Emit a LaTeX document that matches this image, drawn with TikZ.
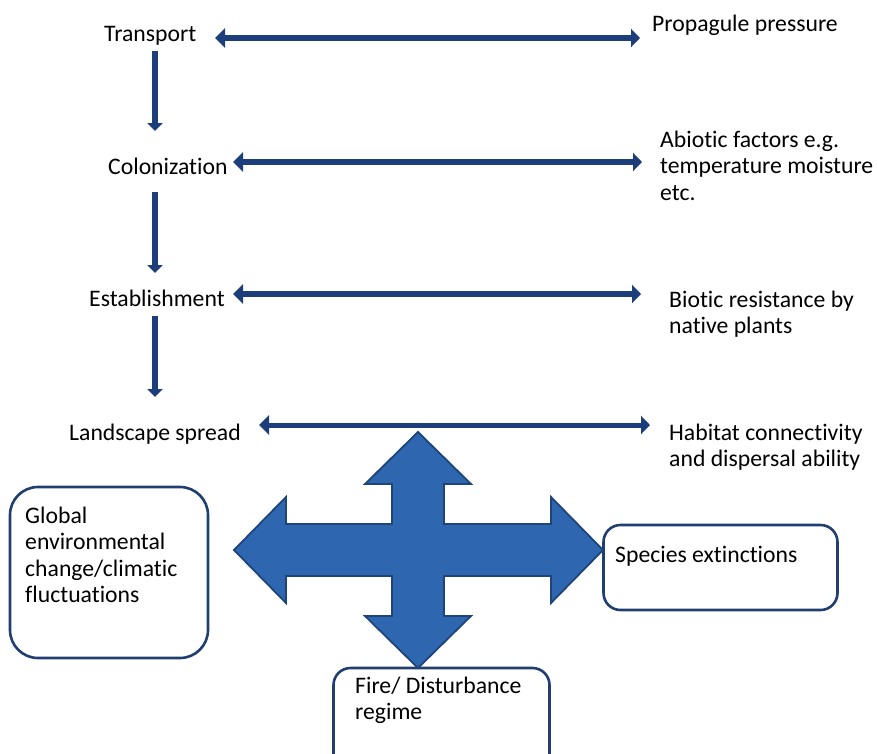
\documentclass[tikz,border=0pt]{standalone}
\usepackage{fontspec}
\setmainfont{Carlito}[Ligatures=NoCommon]
\usetikzlibrary{arrows.meta}
\definecolor{arrowc}{RGB}{28,62,122}
\definecolor{crossfill}{RGB}{46,102,176}
\definecolor{crossline}{RGB}{30,68,124}
\definecolor{boxline}{RGB}{32,62,112}
\begin{document}
\begin{tikzpicture}[x=1pt,y=-1pt,
  txt/.style={inner sep=0pt, anchor=base west, font=\fontsize{23.7}{26.5}\selectfont, text=black},
  harrow/.style={line width=6pt, draw=arrowc, {Triangle[length=10pt,width=19pt]}-{Triangle[length=9pt,width=18pt]}},
  varrow/.style={line width=6pt, draw=arrowc, -{Triangle[length=8pt,width=15pt]}},
  roundbox/.style={draw=boxline, line width=2.6pt, fill=white, inner sep=0pt}]
\useasboundingbox (0,0) rectangle (877,753);
\clip (0,0) rectangle (877,753);
% left column texts
\node[txt] (transport) at (104,41) {Transport};
\node[txt] (colonization) at (108,174) {Colonization};
\node[txt] (establishment) at (89,306) {Establishment};
\node[txt] (landscape) at (69,440) {Landscape spread};
% right column texts
\node[txt] (propagule) at (652,31) {Propagule pressure};
\node[txt] (abiotic) at (660,147) {\vtop{\hbox{Abiotic factors e.g.}\hbox{temperature moisture}\hbox{etc.}}};
\node[txt] (biotic) at (669,307) {\vtop{\hbox{Biotic resistance by}\hbox{native plants}}};
\node[txt] (habitat) at (669,440) {\vtop{\hbox{Habitat connectivity}\hbox{and dispersal ability}}};
% arrow end points
\coordinate (h1a) at (215,38);  \coordinate (h1b) at (640,38);
\coordinate (h2a) at (233,162); \coordinate (h2b) at (642,162);
\coordinate (h3a) at (233,294); \coordinate (h3b) at (641,294);
\coordinate (h4a) at (259,425); \coordinate (h4b) at (650,425);
\coordinate (v1a) at (155,51);  \coordinate (v1b) at (155,131);
\coordinate (v2a) at (155,192); \coordinate (v2b) at (155,273);
\coordinate (v3a) at (155,316); \coordinate (v3b) at (155,397);
\draw[harrow] (h1a) -- (h1b);
\draw[harrow] (h2a) -- (h2b);
\draw[harrow] (h3a) -- (h3b);
\draw[harrow, line width=5pt] (h4a) -- (h4b);
\draw[varrow] (v1a) -- (v1b);
\draw[varrow] (v2a) -- (v2b);
\draw[varrow] (v3a) -- (v3b);
% boxes
\node[roundbox, rounded corners=28pt, minimum width=198pt, minimum height=171pt] (global) at (109,572.5) {};
\node[roundbox, rounded corners=17pt, minimum width=234pt, minimum height=85pt] (species) at (720.5,567.5) {};
\node[roundbox, rounded corners=17pt, minimum width=216pt, minimum height=110pt] (fire) at (441.5,723) {};
\node[txt] (globaltext) at (25,523) {\vtop{\hbox{Global}\hbox{environmental}\hbox{change/climatic}\hbox{fluctuations}}};
\node[txt] (speciestext) at (615,562) {Species extinctions};
\node[txt] (firetext) at (355,693) {\vtop{\hbox{Fire/ Disturbance}\hbox{regime}}};
% four-way arrow
\filldraw[fill=crossfill, draw=crossline, line width=1.8pt, line join=miter]
  (418,432) -- (471,484) -- (444,484) -- (444,524) -- (551,524) -- (551,497)
  -- (603,550) -- (551,603) -- (551,576) -- (444,576) -- (444,616) -- (471,616)
  -- (418,668) -- (365,616) -- (392,616) -- (392,576) -- (286,576) -- (286,603)
  -- (234,550) -- (286,497) -- (286,524) -- (392,524) -- (392,484) -- (365,484) -- cycle;
\end{tikzpicture}
\end{document}
